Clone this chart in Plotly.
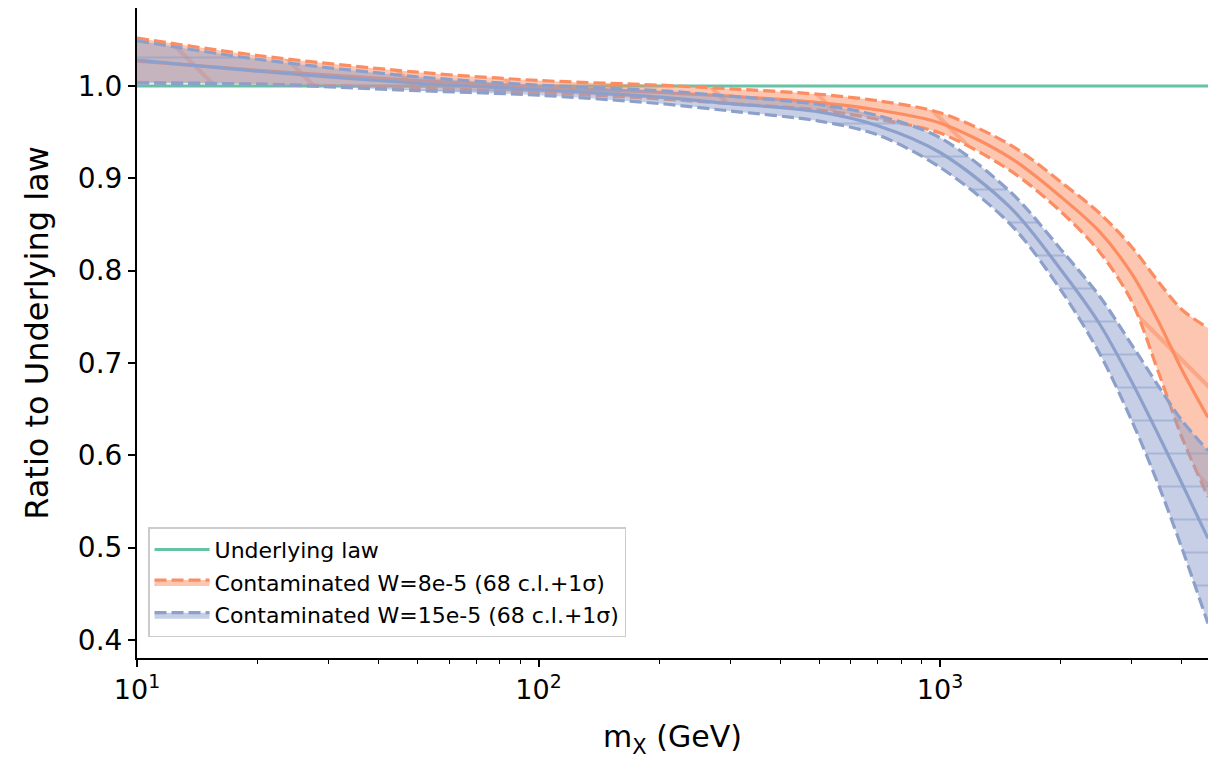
import numpy as np
import plotly.graph_objects as go

# ---- data ----
mass = [10, 20, 50, 100, 200, 300, 500, 700, 1000, 1500, 2000, 2500, 3000, 3500, 4000, 4650]

orange_hi = [1.052, 1.033, 1.015, 1.006, 1.001, 0.997, 0.991, 0.984, 0.971, 0.936, 0.896, 0.862, 0.826, 0.788, 0.758, 0.738]
orange_mid = [1.027, 1.017, 1.006, 0.999, 0.993, 0.989, 0.982, 0.974, 0.960, 0.922, 0.880, 0.842, 0.797, 0.745, 0.693, 0.641]
orange_lo = [1.004, 1.002, 0.998, 0.993, 0.986, 0.981, 0.974, 0.964, 0.949, 0.908, 0.864, 0.820, 0.767, 0.690, 0.620, 0.555]

blue_hi = [1.049, 1.029, 1.010, 1.001, 0.995, 0.989, 0.980, 0.968, 0.944, 0.885, 0.823, 0.772, 0.720, 0.675, 0.638, 0.605]
blue_mid = [1.028, 1.016, 1.003, 0.996, 0.988, 0.981, 0.972, 0.957, 0.928, 0.868, 0.801, 0.742, 0.680, 0.622, 0.570, 0.510]
blue_lo = [1.003, 1.002, 0.995, 0.990, 0.981, 0.973, 0.962, 0.947, 0.912, 0.850, 0.779, 0.710, 0.638, 0.568, 0.500, 0.418]

underlying = [1.0 for _ in mass]

y_ticks = [0.4, 0.5, 0.6, 0.7, 0.8, 0.9, 1.0]
x_major = [10, 100, 1000]
x_major_text = ["10<sup>1</sup>", "10<sup>2</sup>", "10<sup>3</sup>"]

GREEN = "#66c2a5"
ORANGE = "#fc8d62"
BLUE = "#8da0cb"
DASH = "12px,5px"

fig = go.Figure()

fig.add_trace(go.Scatter(x=mass, y=underlying, mode="lines", name="Underlying law",
                         line=dict(color=GREEN, width=3), legendgroup="g"))

def add_model(lo, hi, mid, color, rgba, shape, size, name, grp):
    fig.add_trace(go.Scatter(x=mass, y=lo, mode="lines", showlegend=False,
                             line=dict(color=color, width=3.2, dash=DASH, shape="spline", smoothing=0.9),
                             legendgroup=grp))
    fig.add_trace(go.Scatter(x=mass, y=hi, mode="lines", name=name, fill="tonexty",
                             fillcolor=rgba,
                             fillpattern=dict(shape=shape, size=size, solidity=0.06,
                                              fgcolor=color, fgopacity=0.55, fillmode="overlay"),
                             line=dict(color=color, width=3.2, dash=DASH, shape="spline", smoothing=0.9),
                             legendgroup=grp))
    fig.add_trace(go.Scatter(x=mass, y=mid, mode="lines", showlegend=False,
                             line=dict(color=color, width=3.2, shape="spline", smoothing=0.9),
                             legendgroup=grp))

add_model(orange_lo, orange_hi, orange_mid, ORANGE, "rgba(252,141,98,0.5)", "\\", 70,
          "Contaminated W=8e-5 (68 c.l.+1σ)", "o")
add_model(blue_lo, blue_hi, blue_mid, BLUE, "rgba(141,160,203,0.5)", "-", 33,
          "Contaminated W=15e-5 (68 c.l.+1σ)", "b")

minor_vals = [d * 10 ** e for e in range(1, 4) for d in range(2, 10) if d * 10 ** e <= 4650]

fig.update_layout(
    width=1225, height=761,
    margin=dict(l=137, r=17, t=8, b=103),
    paper_bgcolor="white", plot_bgcolor="white",
    font=dict(family="DejaVu Sans", size=27, color="black"),
    showlegend=True,
    legend=dict(x=0.0103, y=0.032, xanchor="left", yanchor="bottom",
                bgcolor="rgba(255,255,255,0.8)", bordercolor="#cccccc", borderwidth=1.5,
                font=dict(size=22), tracegroupgap=1, itemwidth=55),
)

fig.update_xaxes(type="log", range=[1, np.log10(4650)],
                 tickvals=x_major, ticktext=x_major_text, tickfont=dict(size=27),
                 ticks="outside", ticklen=7, tickwidth=1.5, tickcolor="black",
                 showline=True, linecolor="black", linewidth=2, showgrid=False, zeroline=False,
                 minor=dict(tickvals=minor_vals, ticks="outside", ticklen=4, tickwidth=1, tickcolor="black", showgrid=False),
                 title=dict(text="m<sub>X</sub> (GeV)", font=dict(size=30), standoff=22))
fig.update_yaxes(range=[0.3805, 1.0845], tickvals=y_ticks, tickformat=".1f", tickfont=dict(size=28),
                 ticks="outside", ticklen=7, tickwidth=1.5, tickcolor="black",
                 showline=True, linecolor="black", linewidth=2, showgrid=False, zeroline=False,
                 title=dict(text="Ratio to Underlying law", font=dict(size=32), standoff=20))

fig.write_html("out.html")
